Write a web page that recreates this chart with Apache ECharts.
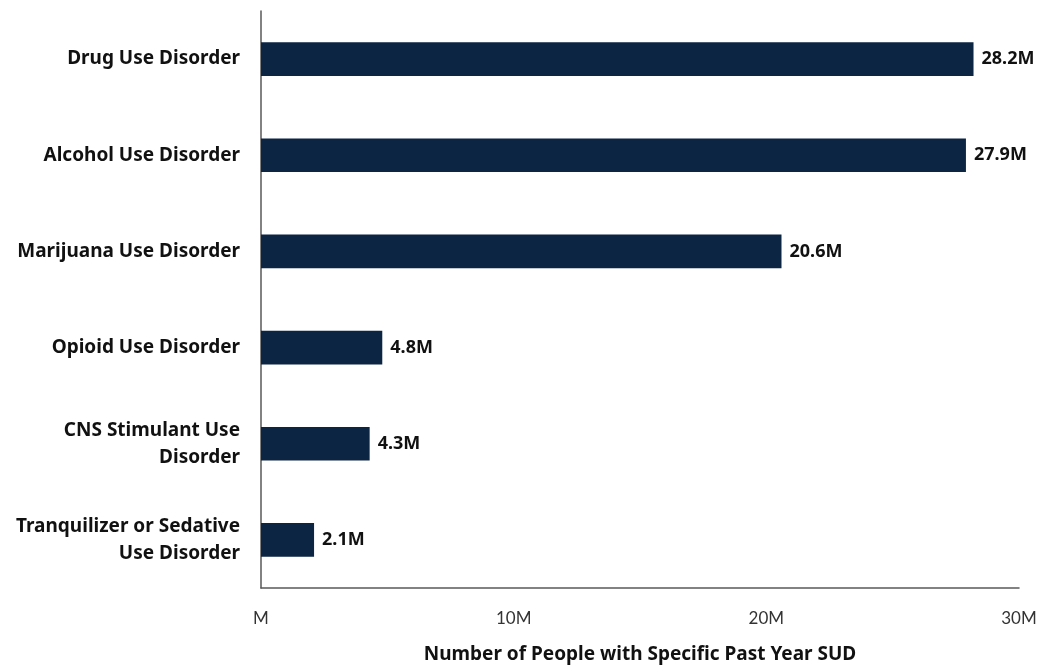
<!DOCTYPE html>
<html>
<head>
<meta charset="utf-8">
<script src="https://cdn.jsdelivr.net/npm/echarts@6/dist/echarts.min.js"></script>
<style>html,body{margin:0;padding:0;background:#fff;}#c{width:1039px;height:667px;}</style>
</head>
<body>
<div id="c"></div>
<script>
const categories = [
  'Drug Use Disorder',
  'Alcohol Use Disorder',
  'Marijuana Use Disorder',
  'Opioid Use Disorder',
  'CNS Stimulant Use\nDisorder',
  'Tranquilizer or Sedative\nUse Disorder'
];
const valuesMillions = [28.2, 27.9, 20.6, 4.8, 4.3, 2.1];
const xTicks = [0, 10, 20, 30];
const axisTitle = 'Number of People with Specific Past Year SUD';

const FONT = 'Lato, "Noto Sans", sans-serif';
const BOLD = '"Noto Sans", sans-serif';
const chart = echarts.init(document.getElementById('c'), null, {renderer: 'canvas'});
chart.setOption({
  animation: false,
  textStyle: {fontFamily: FONT},
  grid: {left: 261, right: 20, top: 11, bottom: 79, containLabel: false, outerBoundsMode: 'none'},
  xAxis: {
    type: 'value', min: xTicks[0], max: xTicks[xTicks.length - 1], interval: 10,
    axisLine: {show: true, lineStyle: {color: '#595959', width: 1.5}},
    axisTick: {show: false},
    splitLine: {show: false},
    axisLabel: {
      fontFamily: FONT, fontSize: 17, color: '#333', margin: 22,
      formatter: v => (v === 0 ? '' : v) + 'M'
    },
    name: axisTitle, nameLocation: 'middle', nameGap: 57,
    nameTextStyle: {fontFamily: BOLD, fontSize: 19, fontWeight: 'bold', color: '#111'}
  },
  yAxis: {
    type: 'category', data: categories, inverse: true,
    axisLine: {show: true, lineStyle: {color: '#595959', width: 1.5}},
    axisTick: {show: false},
    axisLabel: {
      fontFamily: BOLD, fontSize: 19, fontWeight: 'bold', color: '#111',
      margin: 21, lineHeight: 27, align: 'right', padding: [4, 0, 0, 0]
    }
  },
  series: [{
    type: 'bar', data: valuesMillions, barWidth: '35%',
    itemStyle: {color: '#0c2543'},
    label: {
      show: true, position: 'right', distance: 8, padding: [3, 0, 0, 0],
      fontFamily: BOLD, fontSize: 18, fontWeight: 'bold', color: '#111',
      formatter: p => p.value.toFixed(1) + 'M'
    }
  }]
});
</script>
</body>
</html>
